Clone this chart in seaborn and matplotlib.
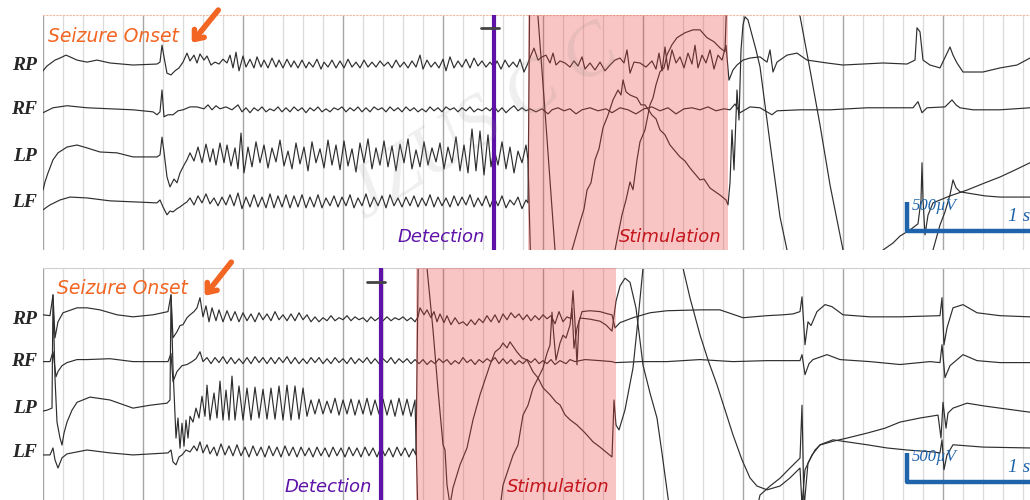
#
## eeg_stimulation_figure.py
#
#  Two EEG epochs (RP, RF, LP, LF) around seizure onset, detection and stimulation.
#

import numpy as np
import pandas as pd
import matplotlib.pyplot as plt
import seaborn as sns

# (time in ms, amplitude in uV relative to the channel baseline)
top_rp = [(0,-100),(20,-17),(60,85),(85,120),(115,170),(135,140),(170,85),(220,50),(270,85),(335,35),(450,0),(570,17),(585,50),(595,340),(605,140),(620,-140),(640,-170),(660,-100),(680,-50),(700,50),(720,205),(735,70),(755,170),(770,35),(785,190),(805,85),(820,155),(840,0),(860,50),(880,17),(900,100),(920,35),(935,170),(950,-50),(965,220),(980,-100),(1000,155),(1015,-35),(1035,100),(1055,-50),(1070,140),(1090,-35),(1105,85),(1125,-50),(1145,120),(1165,-35),(1180,85),(1200,-50),(1220,100),(1240,-35),(1255,70),(1275,-50),(1295,85),(1315,-50),(1330,50),(1350,-35),(1370,100),(1390,-70),(1405,50),(1425,-35),(1445,85),(1465,-50),(1485,70),(1505,-50),(1525,100),(1545,-35),(1565,50),(1585,-50),(1605,85),(1625,-35),(1645,50),(1665,-35),(1685,70),(1705,-17),(1725,50),(1745,-50),(1765,85),(1785,-35),(1805,50),(1825,-50),(1845,70),(1865,-35),(1885,170),(1900,-70),(1920,85),(1940,-35),(1960,50),(1980,-50),(2000,100),(2015,-100),(2035,140),(2055,-50),(2075,70),(2095,-35),(2115,100),(2135,-50),(2155,120),(2175,-17),(2195,70),(2215,-35),(2235,50),(2255,-35),(2270,70),(2290,-70),(2310,85),(2330,-35),(2350,50),(2370,-35),(2385,100),(2405,-120),(2425,35),(2440,170),(2455,290),(2475,85),(2495,140),(2515,170),(2535,35),(2550,205),(2565,0),(2585,70),(2610,35),(2635,-35),(2655,70),(2675,-17),(2695,140),(2710,-70),(2735,35),(2760,-85),(2785,50),(2810,-100),(2835,0),(2860,85),(2885,120),(2905,35),(2920,260),(2935,-140),(2955,50),(2985,35),(3015,-35),(3045,70),(3065,-70),(3080,205),(3095,-100),(3110,310),(3125,-85),(3145,260),(3165,35),(3185,140),(3205,-50),(3225,205),(3245,17),(3260,340),(3275,-50),(3295,170),(3315,35),(3335,260),(3355,-70),(3375,170),(3395,85),(3415,340),(3430,-260),(3450,-85),(3470,0),(3500,85),(3535,120),(3585,140),(3620,50),(3635,260),(3650,-120),(3670,50),(3720,170),(3770,205),(3820,85),(3920,35),(4000,0),(4100,17),(4200,35),(4320,17),(4360,85),(4370,640),(4385,570),(4400,85),(4435,0),(4485,-50),(4535,310),(4550,170),(4570,35),(4600,-120),(4700,-120),(4785,-50),(4870,0),(4935,120)]
top_rf = [(0,-50),(50,35),(120,70),(220,35),(335,17),(450,0),(550,-35),(570,-85),(585,-35),(595,340),(605,-120),(625,-85),(650,-85),(675,-17),(700,0),(735,50),(770,50),(805,17),(825,85),(845,0),(865,70),(885,17),(915,50),(945,0),(975,85),(995,-35),(1015,35),(1035,-50),(1055,35),(1075,-17),(1095,50),(1115,-35),(1135,17),(1155,-17),(1175,50),(1195,-35),(1215,35),(1235,-35),(1255,50),(1275,-17),(1295,35),(1315,-50),(1335,35),(1355,-17),(1375,50),(1395,-35),(1415,17),(1435,-35),(1455,35),(1475,0),(1495,50),(1515,-35),(1535,35),(1555,-17),(1575,50),(1595,-35),(1615,35),(1635,-35),(1655,50),(1675,0),(1695,35),(1715,-35),(1735,50),(1755,-17),(1775,35),(1795,-35),(1815,50),(1835,-17),(1855,35),(1875,-35),(1895,17),(1915,-35),(1935,50),(1955,-17),(1975,35),(1995,-35),(2015,50),(2035,0),(2055,35),(2075,-35),(2095,35),(2115,-17),(2135,50),(2155,-35),(2175,17),(2195,-17),(2215,35),(2235,-17),(2255,70),(2275,-35),(2295,35),(2315,-50),(2335,17),(2355,70),(2375,-17),(2395,35),(2415,-17),(2435,17),(2465,-35),(2495,17),(2525,-70),(2545,0),(2575,35),(2605,-17),(2635,17),(2665,-70),(2695,0),(2735,35),(2775,-17),(2815,17),(2845,-50),(2885,35),(2925,0),(2965,-70),(3005,17),(3045,50),(3085,-17),(3125,35),(3165,-70),(3205,17),(3245,35),(3285,0),(3325,50),(3365,-17),(3405,17),(3435,0),(3460,100),(3485,-50),(3535,50),(3585,35),(3620,-35),(3645,-85),(3670,-17),(3785,0),(3935,0),(4120,35),(4350,35),(4375,140),(4395,-50),(4420,35),(4510,50),(4545,170),(4565,85),(4585,35),(4650,0),(4785,0),(4935,35)]
top_lp = [(0,-570),(10,-430),(25,-275),(50,-50),(75,70),(120,170),(170,205),(220,155),(285,85),(370,70),(450,0),(570,0),(585,35),(595,340),(605,85),(620,-345),(635,-515),(655,-380),(670,-445),(685,-275),(705,-140),(720,-50),(735,70),(755,-70),(775,170),(795,-100),(815,220),(835,-85),(850,140),(865,-140),(885,240),(905,-100),(920,205),(940,-155),(960,155),(975,-205),(990,410),(1005,-275),(1025,170),(1045,-170),(1065,260),(1085,-100),(1105,205),(1125,-190),(1145,155),(1165,-85),(1185,290),(1205,-155),(1225,100),(1245,-205),(1265,240),(1285,-120),(1305,170),(1325,-240),(1345,260),(1365,-100),(1385,140),(1405,-190),(1425,290),(1445,-140),(1465,205),(1485,-220),(1505,275),(1525,-155),(1545,140),(1565,-260),(1585,240),(1605,-100),(1625,310),(1645,-205),(1665,155),(1685,-140),(1705,275),(1725,-170),(1745,190),(1765,-240),(1785,220),(1805,-100),(1825,310),(1845,-205),(1865,120),(1885,-170),(1905,260),(1925,-140),(1945,155),(1965,-85),(1985,240),(2005,-205),(2025,170),(2045,-100),(2065,345),(2085,-240),(2105,205),(2125,-275),(2145,480),(2165,-240),(2185,445),(2205,-310),(2225,380),(2240,-170),(2255,140),(2275,-140),(2295,260),(2315,-205),(2335,170),(2355,-275),(2375,100),(2395,-100),(2415,205),(2425,-50),(2440,-2060),(2585,-3440),(2645,-1600),(2685,-1120),(2705,-895),(2720,-570),(2740,-445),(2760,-50),(2780,140),(2800,500),(2825,720),(2850,980),(2875,1150),(2890,1065),(2900,1325),(2915,1120),(2935,1065),(2970,1015),(2990,895),(3010,895),(3045,720),(3065,655),(3085,465),(3110,380),(3135,205),(3185,0),(3210,-70),(3235,-190),(3285,-395),(3305,-380),(3335,-535),(3385,-655),(3415,-740),(3425,-825),(3435,-445),(3445,465),(3455,-225),(3470,1150),(3480,635),(3490,1840),(3500,2270),(3510,2410),(3525,2355),(3545,2100),(3565,1840),(3585,1550),(3610,895),(3635,240),(3660,-395),(3685,-1030),(3720,-1600),(3760,-2290),(3835,-3150),(3985,-3660),(4110,-2975),(4200,-1600),(4250,-1480),(4285,-1360),(4335,-1255),(4375,-1150),(4390,-740),(4395,-100),(4400,-740),(4410,-1340),(4425,-1000),(4450,-790),(4485,-740),(4535,-670),(4620,-570),(4710,-445),(4785,-345),(4860,-225),(4935,-100)]
top_lf = [(0,-120),(20,-70),(35,-35),(85,50),(135,100),(220,85),(335,35),(450,17),(570,0),(585,50),(600,-70),(620,-205),(635,-140),(650,-155),(670,-100),(685,-70),(705,-17),(720,17),(735,85),(755,-35),(775,120),(795,0),(815,155),(835,-17),(855,85),(875,-50),(895,100),(915,-35),(935,140),(955,-50),(975,170),(995,-100),(1015,100),(1035,-70),(1055,140),(1075,-70),(1095,100),(1115,-85),(1135,155),(1155,-85),(1175,120),(1195,-70),(1215,140),(1235,-85),(1255,120),(1275,-70),(1295,140),(1315,-85),(1335,100),(1355,-70),(1375,140),(1395,-85),(1415,85),(1435,-50),(1455,120),(1475,-70),(1495,100),(1515,-50),(1535,140),(1555,-85),(1575,85),(1595,-50),(1615,155),(1635,-70),(1655,100),(1675,-50),(1695,120),(1715,-85),(1735,140),(1755,-50),(1775,85),(1795,-70),(1815,100),(1835,-50),(1855,120),(1875,-70),(1895,85),(1915,-50),(1935,140),(1955,-70),(1975,100),(1995,-50),(2015,85),(2035,-70),(2055,120),(2075,-50),(2095,100),(2115,-35),(2135,140),(2155,-70),(2175,85),(2195,-50),(2215,120),(2235,-70),(2255,100),(2275,-50),(2295,120),(2315,-85),(2335,50),(2355,-35),(2375,100),(2395,-100),(2415,50),(2425,0),(2435,4180),(2475,3200),(2515,1340),(2560,-810),(2595,-2180),(2710,-3390),(2810,-2180),(2850,-980),(2870,-635),(2895,-205),(2915,50),(2935,360),(2950,225),(2970,740),(2985,1050),(3010,1255),(3035,1685),(3050,1805),(3065,2030),(3085,2255),(3105,2320),(3120,2545),(3145,2720),(3170,2840),(3210,2925),(3250,2975),(3285,2975),(3320,2840),(3355,2770),(3385,2665),(3410,2600),(3425,4180),(3585,6930),(3770,3490),(3835,2290),(3885,1340),(3935,310),(4000,-810),(4085,-2180),(4235,-3045),(4385,-2010),(4450,-810),(4485,-380),(4510,-155),(4535,140),(4550,395),(4565,260),(4585,190),(4620,170),(4710,120),(4785,100),(4935,100)]

bot_rp = [(0,85),(35,70),(50,430),(60,-310),(75,-35),(100,120),(170,205),(220,205),(285,170),(370,85),(450,50),(550,85),(625,140),(640,430),(650,-310),(670,-205),(685,-100),(700,-85),(720,35),(735,85),(755,140),(770,205),(785,380),(800,50),(815,240),(830,-35),(845,205),(865,-17),(880,170),(900,-35),(920,155),(940,-17),(960,140),(980,-35),(1000,120),(1020,-17),(1040,100),(1060,-35),(1080,120),(1100,0),(1120,100),(1140,-17),(1160,140),(1180,0),(1200,85),(1220,-17),(1240,100),(1260,-17),(1280,120),(1300,0),(1320,85),(1340,-35),(1360,50),(1380,-35),(1400,35),(1420,-17),(1440,70),(1460,-17),(1480,35),(1500,0),(1520,70),(1540,-17),(1560,50),(1580,0),(1600,35),(1620,-35),(1640,50),(1660,-17),(1680,35),(1700,-17),(1720,50),(1740,-17),(1760,35),(1780,0),(1800,50),(1820,-17),(1840,35),(1860,-35),(1875,50),(1885,205),(1905,85),(1920,170),(1940,35),(1955,140),(1970,-35),(1985,100),(2005,-50),(2020,70),(2040,-85),(2060,35),(2080,-70),(2100,-35),(2120,-100),(2140,0),(2160,-85),(2180,17),(2200,-50),(2220,70),(2240,-35),(2260,85),(2280,-50),(2300,100),(2320,0),(2340,120),(2360,35),(2380,100),(2400,0),(2420,85),(2440,-17),(2460,70),(2480,0),(2500,85),(2520,17),(2540,70),(2560,-70),(2580,140),(2600,-35),(2620,50),(2640,17),(2650,500),(2660,-50),(2670,-775),(2680,-35),(2695,140),(2735,155),(2785,140),(2825,100),(2845,85),(2860,-140),(2885,-50),(2950,35),(3035,120),(3120,155),(3285,170),(3385,170),(3500,35),(3620,70),(3700,85),(3750,100),(3785,140),(3795,395),(3810,-430),(3825,-35),(3840,-100),(3870,140),(3910,260),(3945,225),(4000,85),(4135,50),(4285,50),(4485,70),(4495,380),(4505,-430),(4520,-140),(4550,205),(4600,260),(4670,120),(4785,70),(4935,50)]
bot_rf = [(0,0),(35,0),(50,170),(65,-260),(75,-170),(95,-70),(120,-17),(170,35),(220,35),(335,50),(450,0),(625,0),(640,140),(650,-345),(670,-170),(695,-70),(720,-50),(745,0),(765,50),(785,170),(800,0),(820,70),(840,-35),(860,70),(880,-17),(900,85),(920,-35),(940,70),(960,-35),(980,50),(1000,-35),(1020,70),(1040,-35),(1060,85),(1080,-17),(1100,70),(1120,-35),(1140,70),(1160,-35),(1180,70),(1200,-17),(1220,85),(1240,-35),(1260,70),(1280,-35),(1300,50),(1320,-35),(1340,70),(1360,-17),(1380,70),(1400,-35),(1420,50),(1440,-35),(1460,70),(1480,-17),(1500,50),(1520,-35),(1540,70),(1560,-35),(1580,50),(1600,-17),(1620,70),(1640,-35),(1660,50),(1680,-35),(1700,50),(1720,-17),(1740,70),(1760,-35),(1780,50),(1800,-17),(1820,50),(1840,-35),(1860,35),(1880,-35),(1900,35),(1920,-50),(1940,17),(1960,-35),(1980,50),(2000,-17),(2020,35),(2040,-50),(2060,17),(2080,-35),(2100,70),(2120,-17),(2140,35),(2160,-50),(2180,35),(2200,-17),(2220,50),(2240,0),(2260,70),(2280,-35),(2300,50),(2320,-35),(2340,35),(2360,-50),(2380,17),(2400,-35),(2420,35),(2440,-17),(2460,50),(2480,-35),(2500,17),(2520,-35),(2540,35),(2560,-50),(2585,17),(2615,-35),(2635,35),(2660,0),(2710,35),(2785,17),(2845,0),(2860,-17),(2985,0),(3120,0),(3285,35),(3450,0),(3620,17),(3785,17),(3795,120),(3810,-225),(3830,-35),(3850,35),(3920,120),(3985,35),(4135,0),(4285,-50),(4435,0),(4485,-17),(4495,290),(4510,-275),(4535,-70),(4600,120),(4670,17),(4785,-17),(4935,-17)]
bot_lp = [(0,-50),(20,-35),(45,0),(50,1945),(60,515),(70,-240),(85,-515),(95,-635),(105,-430),(120,-240),(145,-35),(170,100),(235,190),(335,140),(450,0),(535,50),(620,85),(635,140),(640,1945),(650,690),(665,-515),(675,-170),(685,-690),(695,-260),(705,-655),(715,-205),(725,-515),(735,-140),(750,-240),(765,0),(780,-170),(795,205),(810,-140),(820,395),(835,-205),(855,260),(870,-170),(885,465),(900,-205),(915,310),(930,-205),(945,550),(960,-205),(980,380),(1000,-205),(1020,345),(1040,-205),(1060,360),(1080,-170),(1100,325),(1120,-190),(1140,345),(1160,-190),(1180,380),(1200,-205),(1220,395),(1240,-205),(1260,380),(1280,-190),(1300,345),(1320,-140),(1340,140),(1360,-100),(1380,155),(1400,-100),(1420,120),(1440,-85),(1460,170),(1480,-120),(1500,140),(1520,-100),(1540,155),(1560,-120),(1580,140),(1600,-100),(1620,170),(1640,-120),(1660,140),(1680,-100),(1700,155),(1720,-120),(1740,140),(1760,-140),(1780,170),(1800,-120),(1820,155),(1840,-140),(1860,140),(1875,-1890),(1985,-2750),(2185,-2580),(2285,-1720),(2300,-1325),(2325,-1065),(2350,-810),(2375,-635),(2400,-120),(2425,50),(2450,345),(2475,515),(2500,690),(2520,945),(2535,1085),(2545,1650),(2555,1205),(2565,825),(2585,1120),(2600,1255),(2615,1205),(2635,1430),(2645,1720),(2655,1030),(2670,1375),(2685,1550),(2735,1530),(2785,1495),(2815,1430),(2845,1325),(2865,1840),(2885,2100),(2910,2235),(2935,2165),(2965,1720),(3000,740),(3035,260),(3070,-170),(3095,-775),(3125,-1550),(3185,-2750),(3385,-3440),(3535,-2235),(3585,-1495),(3635,-1340),(3685,-1205),(3735,-1030),(3785,-860),(3795,50),(3805,-1720),(3825,-945),(3860,-720),(3885,-635),(3950,-570),(4020,-515),(4120,-430),(4210,-345),(4285,-240),(4385,-170),(4475,-120),(4490,-515),(4500,100),(4515,-345),(4525,-85),(4550,0),(4620,85),(4710,35),(4785,0),(4935,-70)]
bot_lf = [(0,-35),(35,-35),(50,85),(60,-120),(75,-260),(95,-85),(120,-17),(170,17),(220,50),(335,0),(450,-35),(625,0),(640,50),(650,-155),(665,-205),(680,-70),(695,-35),(715,50),(735,17),(755,120),(770,35),(785,190),(800,0),(820,140),(835,-17),(855,100),(870,-50),(890,155),(910,-35),(930,120),(950,-50),(970,140),(990,-50),(1010,100),(1030,-70),(1050,120),(1070,-50),(1090,100),(1110,-70),(1130,120),(1150,-50),(1170,100),(1190,-70),(1210,120),(1230,-50),(1250,100),(1270,-70),(1290,100),(1310,-50),(1330,85),(1350,-70),(1370,100),(1390,-50),(1410,85),(1430,-70),(1450,100),(1470,-50),(1490,85),(1510,-70),(1530,100),(1550,-50),(1570,85),(1590,-70),(1610,100),(1630,-50),(1650,85),(1670,-70),(1690,100),(1710,-50),(1730,85),(1750,-70),(1770,100),(1790,-50),(1810,85),(1830,-70),(1850,70),(1865,-35),(1880,4350),(1920,3180),(1950,2115),(1975,1085),(2000,140),(2010,50),(2020,-550),(2035,-895),(2050,-600),(2085,-205),(2120,85),(2150,570),(2185,1000),(2210,1255),(2235,1515),(2260,1735),(2285,1805),(2300,1890),(2320,1805),(2335,1910),(2370,1735),(2395,1635),(2420,1600),(2450,1395),(2475,1290),(2500,1120),(2535,1000),(2565,875),(2585,825),(2610,655),(2635,570),(2670,480),(2710,345),(2750,190),(2785,100),(2845,-70),(2855,910),(2865,480),(2880,395),(2910,740),(2950,1460),(2975,2290),(3000,3180),(3035,4010),(3110,4525),(3185,3835),(3200,3180),(3235,2665),(3285,2030),(3325,1600),(3370,1170),(3410,740),(3450,310),(3495,-120),(3535,-430),(3570,-570),(3620,-635),(3685,-570),(3735,-430),(3785,-260),(3795,-895),(3810,-290),(3845,-35),(3885,140),(3950,225),(4020,190),(4120,140),(4220,85),(4320,50),(4450,17),(4485,0),(4495,225),(4505,-290),(4520,-35),(4550,140),(4700,100),(4935,85)]

channels = ['RP', 'RF', 'LP', 'LF']
top_offsets = [3180, 2410, 1600, 810]     # uV baseline of each channel
bot_offsets = [3100, 2380, 1580, 810]
top_ylim = (0, 4040)
bot_ylim = (0, 3990)
x_end = 4935                               # ms visible

# event times (ms)
top_detection = 2255
bot_detection = 1690
top_stim = (2425, 3425)
bot_stim = (1865, 2865)
top_marker = [2190, 2280]
bot_marker = [1620, 1710]

orange = '#f26522'
purple = '#5e12a8'
red_txt = '#c4161c'
blue = '#1f64ab'


def to_frame(traces, offsets):
    frames = []
    for name, pairs, off in zip(channels, traces, offsets):
        t, v = zip(*pairs)
        frames.append(pd.DataFrame({'time': t, 'uv': np.array(v) + off, 'channel': name}))
    return pd.concat(frames, ignore_index=True)


sns.set_style('white')
fig = plt.figure(figsize=(10.3, 5.0), dpi=100)
ax1 = fig.add_axes([43 / 1030, 0.5, 1 - 43 / 1030, 0.47])
ax2 = fig.add_axes([43 / 1030, 0.0, 1 - 43 / 1030, 0.464])

panels = [
    (ax1, to_frame([top_rp, top_rf, top_lp, top_lf], top_offsets), top_offsets, top_ylim,
     top_detection, top_stim, top_marker, 3818, (25, 3664), (735, 3526), (885, 4162), 320),
    (ax2, to_frame([bot_rp, bot_rf, bot_lp, bot_lf], bot_offsets), bot_offsets, bot_ylim,
     bot_detection, bot_stim, bot_marker, 3750, (70, 3629), (800, 3474), (950, 4128), 310),
]

for ax, df, offsets, ylim, det, stim, marker, marker_y, onset_xy, tip, tail, bar_y in panels:
    sns.lineplot(data=df, x='time', y='uv', units='channel', estimator=None, sort=False,
                 color='#2e2e2e', linewidth=0.85, legend=False, ax=ax, zorder=2)

    ax.set_xlim(0, x_end)
    ax.set_ylim(*ylim)
    ax.set_xticks(np.arange(0, x_end + 1, 500))
    ax.set_xticks(np.arange(0, x_end + 1, 100), minor=True)
    ax.grid(which='minor', axis='x', color='#dadada', linewidth=0.9)
    ax.grid(which='major', axis='x', color='#a6a6a6', linewidth=1.0)
    ax.set_axisbelow(True)
    ax.set_yticks([])
    ax.tick_params(which='both', length=0, labelbottom=False)
    ax.set_xlabel('')
    ax.set_ylabel('')
    for s in ['left', 'right', 'bottom']:
        ax.spines[s].set_visible(False)

    # stimulation window tints the traces underneath
    ax.axvspan(stim[0], stim[1], color='#e83c3c', alpha=0.3, lw=0, zorder=3)
    ax.axvline(det, color=purple, lw=3.0, zorder=4)
    ax.plot(marker, [marker_y, marker_y], color='#444444', lw=2.0, zorder=4)

    ax.text(det - 45, 224, 'Detection', color=purple, fontsize=13, style='italic',
            family='DejaVu Sans', ha='right', va='center', zorder=5)
    ax.text(stim[1] - 30, 224, 'Stimulation', color=red_txt, fontsize=13, style='italic',
            family='DejaVu Sans', ha='right', va='center', zorder=5)

    ax.text(onset_xy[0], onset_xy[1], 'Seizure Onset', color=orange, fontsize=13.5, style='italic',
            family='DejaVu Sans', ha='left', va='center', zorder=5)
    ax.annotate('', xy=tip, xytext=tail, annotation_clip=False,
                arrowprops=dict(arrowstyle='->,head_length=0.55,head_width=0.45',
                                color=orange, lw=4, capstyle='round'))

    for name, off in zip(channels, offsets):
        ax.text(-0.006, off, name, transform=ax.get_yaxis_transform(), ha='right', va='center',
                family='Liberation Serif', style='italic', weight='bold', fontsize=14)

    # calibration bar: 500 uV by 1 s
    ax.plot([4320, 4320, 5320], [bar_y + 500, bar_y, bar_y], color=blue, lw=3.2, zorder=5,
            solid_capstyle='butt')
    ax.text(4345, bar_y + 430, '500µV', color=blue, fontsize=12, style='italic',
            family='Liberation Serif', ha='left', va='center', zorder=5)
    ax.text(4825, bar_y + 250, '1 s', color=blue, fontsize=14, style='italic',
            family='Liberation Serif', ha='left', va='center', zorder=5)

ax1.spines['top'].set_color('#f2b9a0')
ax1.spines['top'].set_linestyle((0, (1, 2)))
ax2.spines['top'].set_color('#cfcfcf')

fig.text(0.47, 0.75, 'JZUS C C', rotation=32, fontsize=54, color='#8c8c8c', alpha=0.14,
         family='Liberation Serif', style='italic', ha='center', va='center')

fig.savefig('out.png', dpi=100)
plt.close(fig)
